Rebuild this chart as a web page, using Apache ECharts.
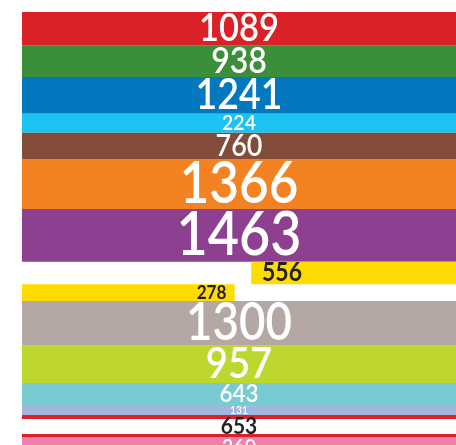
<!DOCTYPE html>
<html><head><meta charset="utf-8">
<script src="https://cdn.jsdelivr.net/npm/echarts@6/dist/echarts.min.js"></script>
<style>html,body{margin:0;padding:0;background:#fff}#c{width:456px;height:445px}</style>
</head><body><div id="c"></div>
<script>
// Values shown on each band (top to bottom)
const values = [1089, 938, 1241, 224, 760, 1366, 1463, 556, 278, 1300, 957, 643, 131, 653, 260];
// Band thickness (second variable, arbitrary units)
const thickness = [33.7, 31.3, 36.7, 19, 26.3, 50, 52.7, 22.5, 16.8, 44.7, 37.3, 22, 10, 22, 19];
// Horizontal extent of each band on a 0-100 scale
const spanStart = [0, 0, 0, 0, 0, 0, 0, 52.8, 0, 0, 0, 0, 0, 0, 0];
const spanEnd = [100, 100, 100, 100, 100, 100, 100, 100, 49.0, 100, 100, 100, 100, 100, 100];
const colors = ['#DB2128', '#3B8E3A', '#0478BE', '#1CC3F0', '#824B3A', '#F38322', '#8D3F90',
  '#FFDC00', '#FFDC00', '#B3A8A4', '#BED72F', '#78CBD0', '#A2B5DD', '#DB2128', '#F07EB0'];
const textColors = ['#fff', '#fff', '#fff', '#fff', '#fff', '#fff', '#fff',
  '#231F20', '#231F20', '#fff', '#fff', '#fff', '#fff', '#231F20', '#fff'];
const outlined = [false, false, false, false, false, false, false, false, false, false, false, false, false, true, false];

const data = [];
let acc = 0;
for (let i = 0; i < values.length; i++) {
  data.push([i, values[i], acc, acc + thickness[i], spanStart[i], spanEnd[i]]);
  acc += thickness[i];
}

const chart = echarts.init(document.getElementById('c'));
const SX = 0.89;
chart.setOption({
  animation: false,
  grid: { left: 22, right: 0, top: 12, bottom: 0 },
  xAxis: { type: 'value', min: 0, max: 100, show: false },
  yAxis: { type: 'value', min: 0, max: 433, inverse: true, show: false },
  series: [{
    type: 'custom',
    clip: true,
    data: data,
    renderItem: function (params, api) {
      const i = api.value(0);
      const p0 = api.coord([api.value(4), api.value(2)]);
      const p1 = api.coord([api.value(5), api.value(3)]);
      const x0 = p0[0], y0 = p0[1], x1 = p1[0], y1 = p1[1];
      const h = y1 - y0;
      const cx = api.coord([50, 0])[0];
      const cy = (y0 + y1) / 2;
      const isOut = outlined[i];
      const fs = h * (isOut ? 1.07 : 1.15);
      const txt = String(api.value(1));
      const w = fs * 0.58 * txt.length * SX;
      const pad = fs * 0.42;
      let tx = cx, align = 'center';
      if (cx - w / 2 < x0 + pad) { tx = x0 + pad; align = 'left'; }
      else if (cx + w / 2 > x1 - pad) { tx = x1 - pad; align = 'right'; }
      const dark = textColors[i] !== '#fff';
      const children = [{
        type: 'rect',
        shape: { x: x0, y: y0, width: x1 - x0, height: h },
        style: { fill: colors[i] }
      }];
      if (isOut) {
        children.push({
          type: 'rect',
          shape: { x: x0, y: y0 + h * 0.18, width: x1 - x0, height: h * 0.68 },
          style: { fill: '#fff' }
        });
      }
      children.push({
        type: 'text',
        x: tx, y: cy, scaleX: SX, scaleY: 1,
        style: {
          text: txt, x: 0, y: 0,
          fill: textColors[i],
          fontFamily: 'Lato', fontWeight: dark ? 700 : 600, fontSize: fs,
          align: align, verticalAlign: 'middle'
        }
      });
      return { type: 'group', children: children };
    }
  }]
});
</script></body></html>
